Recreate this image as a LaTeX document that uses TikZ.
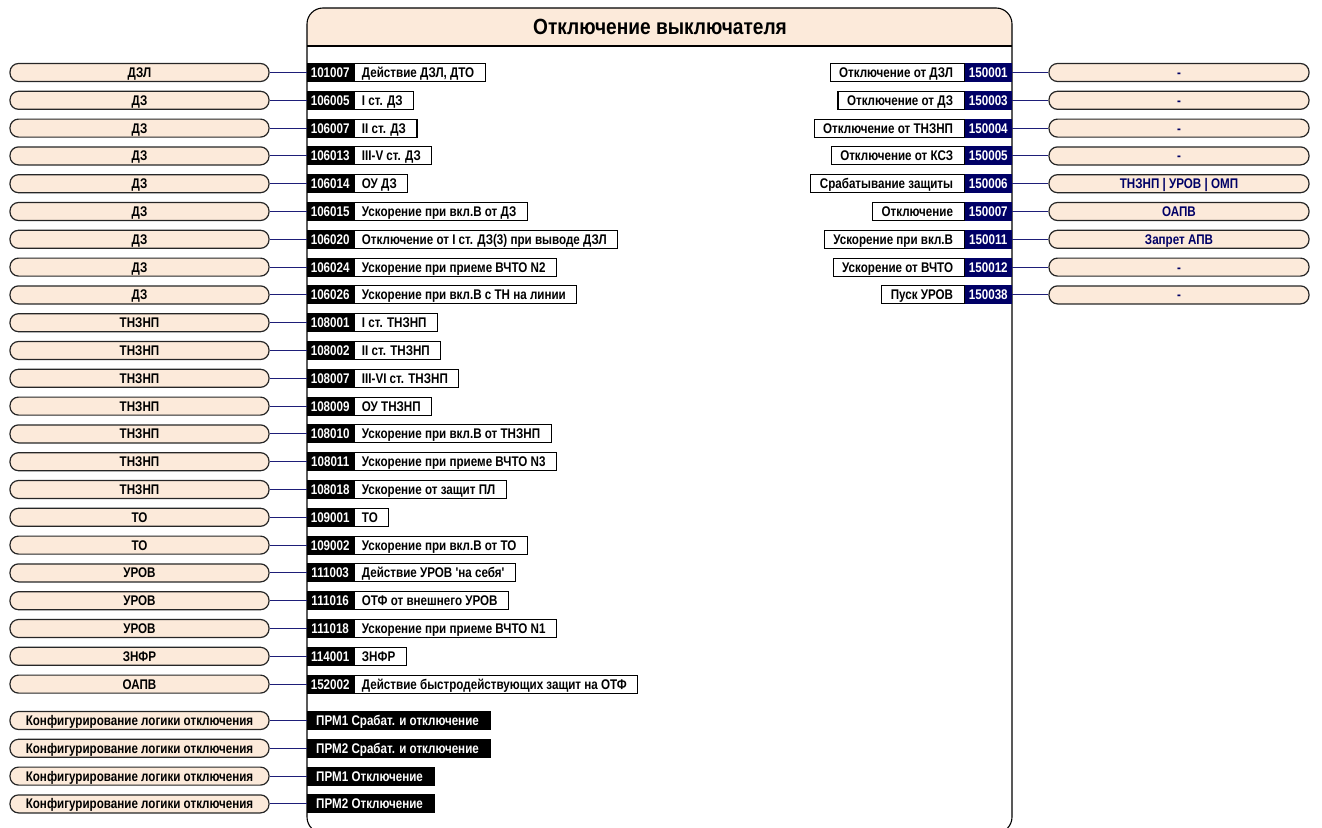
\documentclass[tikz,border=0pt]{standalone}
\usepackage{graphicx}
\usepackage{fontspec}
\newfontfamily\nar{Liberation Sans}
\newcommand\nt[1]{\scalebox{0.83}[1]{#1}}
\definecolor{peach}{RGB}{252,234,218}
\definecolor{navy}{RGB}{0,0,102}
\definecolor{wire}{RGB}{30,30,120}
\tikzset{
  txt/.style={font=\nar\bfseries\fontsize{14}{16}\selectfont, text height=10pt, text depth=0pt},
  pill/.style={txt, draw=black!85, line width=1.2pt, fill=peach, rounded corners=8.5pt,
    minimum width=259pt, minimum height=18pt, inner sep=0pt},
  rpill/.style={pill, text=navy, minimum width=260pt},
  idl/.style={txt, fill=black, text=white, minimum width=46pt, minimum height=19pt, inner sep=0pt},
  idr/.style={txt, fill=navy, text=white, minimum width=47pt, minimum height=19pt, inner sep=0pt},
  lbl/.style={txt, draw=black, fill=white, line width=1.1pt, minimum height=18pt, inner sep=0pt},
  prm/.style={txt, fill=black, text=white, minimum height=19pt, inner sep=0pt, anchor=west},
  conn/.style={draw=wire, line width=1pt},
}
\begin{document}
\begin{tikzpicture}[x=1pt,y=-1pt]
\useasboundingbox (0,0) rectangle (1322,827);
\begin{scope}
\clip (0,0) rectangle (1322,827);
\fill[peach] (307,46) {[rounded corners=16pt] -- (307,8) -- (1012,8)} -- (1012,46) -- cycle;
\draw[line width=1.1pt, rounded corners=16pt] (307,8) rectangle (1012,833);
\draw[line width=2.5pt] (307,46) -- (1012,46);
\end{scope}
\node[font=\nar\bfseries\fontsize{22}{24}\selectfont, text height=16pt, text depth=0pt] (title) at (660,26.5) {\scalebox{0.87}[1]{Отключение выключателя}};
% left rows
\foreach \id/\lab/\src [count=\i from 0] in {
 101007/{Действие ДЗЛ, ДТО}/ДЗЛ,
 106005/I ст. ДЗ/ДЗ,
 106007/II ст. ДЗ/ДЗ,
 106013/III-V ст. ДЗ/ДЗ,
 106014/ОУ ДЗ/ДЗ,
 106015/Ускорение при вкл.В от ДЗ/ДЗ,
 106020/Отключение от I ст. ДЗ(3) при выводе ДЗЛ/ДЗ,
 106024/Ускорение при приеме ВЧТО N2/ДЗ,
 106026/Ускорение при вкл.В с ТН на линии/ДЗ,
 108001/I ст. ТНЗНП/ТНЗНП,
 108002/II ст. ТНЗНП/ТНЗНП,
 108007/III-VI ст. ТНЗНП/ТНЗНП,
 108009/ОУ ТНЗНП/ТНЗНП,
 108010/Ускорение при вкл.В от ТНЗНП/ТНЗНП,
 108011/Ускорение при приеме ВЧТО N3/ТНЗНП,
 108018/Ускорение от защит ПЛ/ТНЗНП,
 109001/ТО/ТО,
 109002/Ускорение при вкл.В от ТО/ТО,
 111003/Действие УРОВ 'на себя'/УРОВ,
 111016/ОТФ от внешнего УРОВ/УРОВ,
 111018/Ускорение при приеме ВЧТО N1/УРОВ,
 114001/ЗНФР/ЗНФР,
 152002/Действие быстродействующих защит на ОТФ/ОАПВ}
{
  \pgfmathsetmacro{\yy}{72.5+27.8*\i}
  \node[pill] (pL\i) at (139.5,\yy) {\nt{\src}};
  \node[idl, anchor=west] (idL\i) at (307,\yy) {\nt{\id}};
  \node[lbl, anchor=west] (lbL\i) at (idL\i.east) {\kern8pt\nt{\lab}\kern11pt};
  \draw[conn] (pL\i.east) -- (idL\i.west);
}
% bottom rows
\foreach \lab [count=\i from 0] in {ПРМ1 Срабат. и отключение, ПРМ2 Срабат. и отключение, ПРМ1 Отключение, ПРМ2 Отключение}
{
  \pgfmathsetmacro{\yy}{720.5+27.8*\i}
  \node[pill] (pB\i) at (139.5,\yy) {\nt{Конфигурирование логики отключения}};
  \node[prm] (prm\i) at (307,\yy) {\kern9pt\nt{\lab}\kern12pt};
  \draw[conn] (pB\i.east) -- (prm\i.west);
}
% right rows
\foreach \lab/\id/\dst [count=\i from 0] in {
 Отключение от ДЗЛ/150001/-,
 Отключение от ДЗ/150003/-,
 Отключение от ТНЗНП/150004/-,
 Отключение от КСЗ/150005/-,
 Срабатывание защиты/150006/ТНЗНП | УРОВ | ОМП,
 Отключение/150007/ОАПВ,
 Ускорение при вкл.В/150011/Запрет АПВ,
 Ускорение от ВЧТО/150012/-,
 Пуск УРОВ/150038/-}
{
  \pgfmathsetmacro{\yy}{72.5+27.8*\i}
  \node[idr, anchor=east] (idR\i) at (1012,\yy) {\nt{\id}};
  \node[lbl, anchor=east] (lbR\i) at (idR\i.west) {\kern9pt\nt{\lab}\kern11pt};
  \node[rpill] (pR\i) at (1179,\yy) {\nt{\dst}};
  \draw[conn] (idR\i.east) -- (pR\i.west);
}
\end{tikzpicture}
\end{document}
